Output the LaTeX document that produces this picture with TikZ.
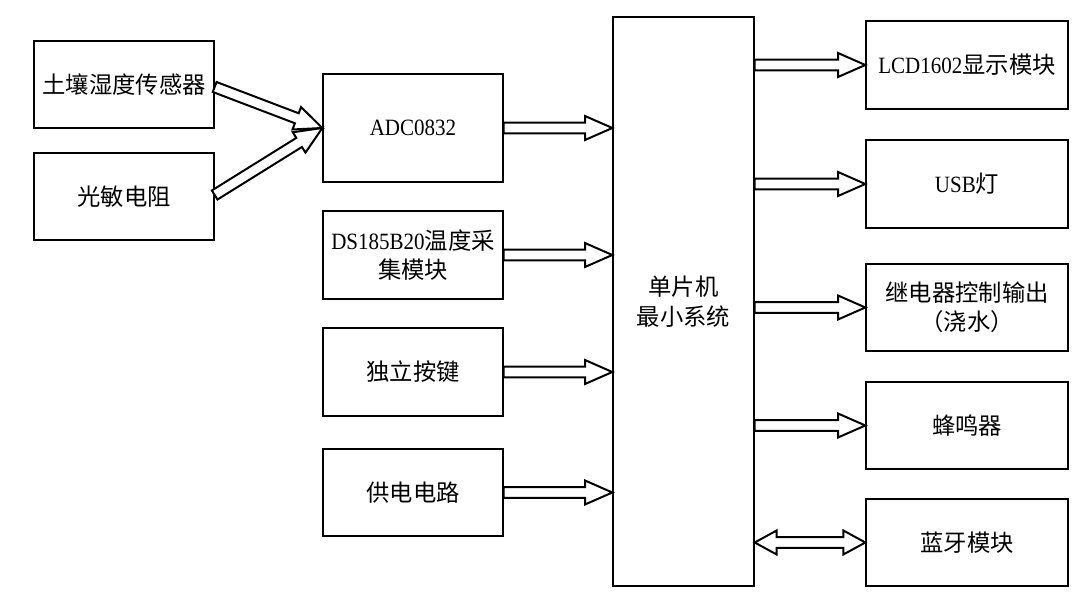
\documentclass[tikz,border=0pt]{standalone}
\usepackage{fontspec}
\setmainfont[FakeStretch=0.9]{Liberation Serif}
\newfontfamily\cjk{Noto Sans CJK SC}
\usetikzlibrary{calc}
\tikzset{
  box/.style={draw, line width=1pt, inner sep=0pt, align=center,
    font=\fontsize{17.5}{22}\selectfont},
  blk/.style={draw, line width=1.5pt, fill=white, line join=miter},
}
\def\aw{4pt}
\def\hw{9pt}
\def\ah{20.5pt}
\def\ahd{16.5pt}
\newcommand{\blockarr}[2]{%
  \coordinate (H) at ($(#2)!\ah!(#1)$);
  \draw[blk] ($(#1)!\aw!90:(#2)$) -- ($(H)!\aw!90:(#2)$) -- ($(H)!\hw!90:(#2)$)
    -- (#2) -- ($(H)!\hw!-90:(#2)$) -- ($(H)!\aw!-90:(#2)$) -- ($(#1)!\aw!-90:(#2)$) -- cycle;
}
\newcommand{\dblockarr}[2]{%
  \coordinate (HA) at ($(#1)!\ahd!(#2)$);
  \coordinate (HB) at ($(#2)!\ahd!(#1)$);
  \draw[blk] (#1) -- ($(HA)!\hw!90:(#2)$) -- ($(HA)!\aw!90:(#2)$) -- ($(HB)!\aw!90:(#2)$)
    -- ($(HB)!\hw!90:(#2)$) -- (#2) -- ($(HB)!\hw!-90:(#2)$) -- ($(HB)!\aw!-90:(#2)$)
    -- ($(HA)!\aw!-90:(#2)$) -- ($(HA)!\hw!-90:(#2)$) -- cycle;
}
\begin{document}
\begin{tikzpicture}[x=0.75pt,y=-0.75pt]
\useasboundingbox[fill=white] (0,0) rectangle (1075,605);
% left column
\node[box, minimum width=135pt, minimum height=65.25pt] (soil) at (124,84.5) {{\cjk 土壤湿度传感器}};
\node[box, minimum width=135pt, minimum height=65.25pt] (light) at (124,196.5) {{\cjk 光敏电阻}};
% middle column
\node[box, minimum width=135pt, minimum height=81pt] (adc) at (413,128) {ADC0832};
\node[box, minimum width=135pt, minimum height=66pt] (ds) at (413,255) {DS185B20{\cjk 温度采}\\{\cjk 集模块}};
\node[box, minimum width=135pt, minimum height=66pt] (key) at (413,372) {{\cjk 独立按键}};
\node[box, minimum width=135pt, minimum height=65.25pt] (pwr) at (413,492.5) {{\cjk 供电电路}};
% MCU
\node[box, minimum width=105.75pt, minimum height=426.75pt] (mcu) at (683.5,301.5) {{\cjk 单片机}\\{\cjk 最小系统}};
% right column
\node[box, minimum width=151.5pt, minimum height=66pt] (lcd) at (967,65) {LCD1602{\cjk 显示模块}};
\node[box, minimum width=151.5pt, minimum height=66pt] (usb) at (967,184) {USB{\cjk 灯}};
\node[box, minimum width=151.5pt, minimum height=65.25pt] (relay) at (967,307.5) {{\cjk 继电器控制输出}\\{\cjk （浇水）}};
\node[box, minimum width=151.5pt, minimum height=65.25pt] (buzz) at (967,425.5) {{\cjk 蜂鸣器}};
\node[box, minimum width=151.5pt, minimum height=65.25pt] (bt) at (967,542.5) {{\cjk 蓝牙模块}};
% connectors
\coordinate (soilT) at ($(soil.east)+(0,2.5)$);
\coordinate (lightT) at ($(light.east)+(0,-1.5)$);
\blockarr{soilT}{adc.west}
\blockarr{lightT}{adc.west}
\blockarr{adc.east}{mcu.west |- adc.east}
\blockarr{ds.east}{mcu.west |- ds.east}
\blockarr{key.east}{mcu.west |- key.east}
\blockarr{pwr.east}{mcu.west |- pwr.east}
\blockarr{mcu.east |- lcd.west}{lcd.west}
\blockarr{mcu.east |- usb.west}{usb.west}
\blockarr{mcu.east |- relay.west}{relay.west}
\blockarr{mcu.east |- buzz.west}{buzz.west}
\dblockarr{mcu.east |- bt.west}{bt.west}
\end{tikzpicture}
\end{document}
